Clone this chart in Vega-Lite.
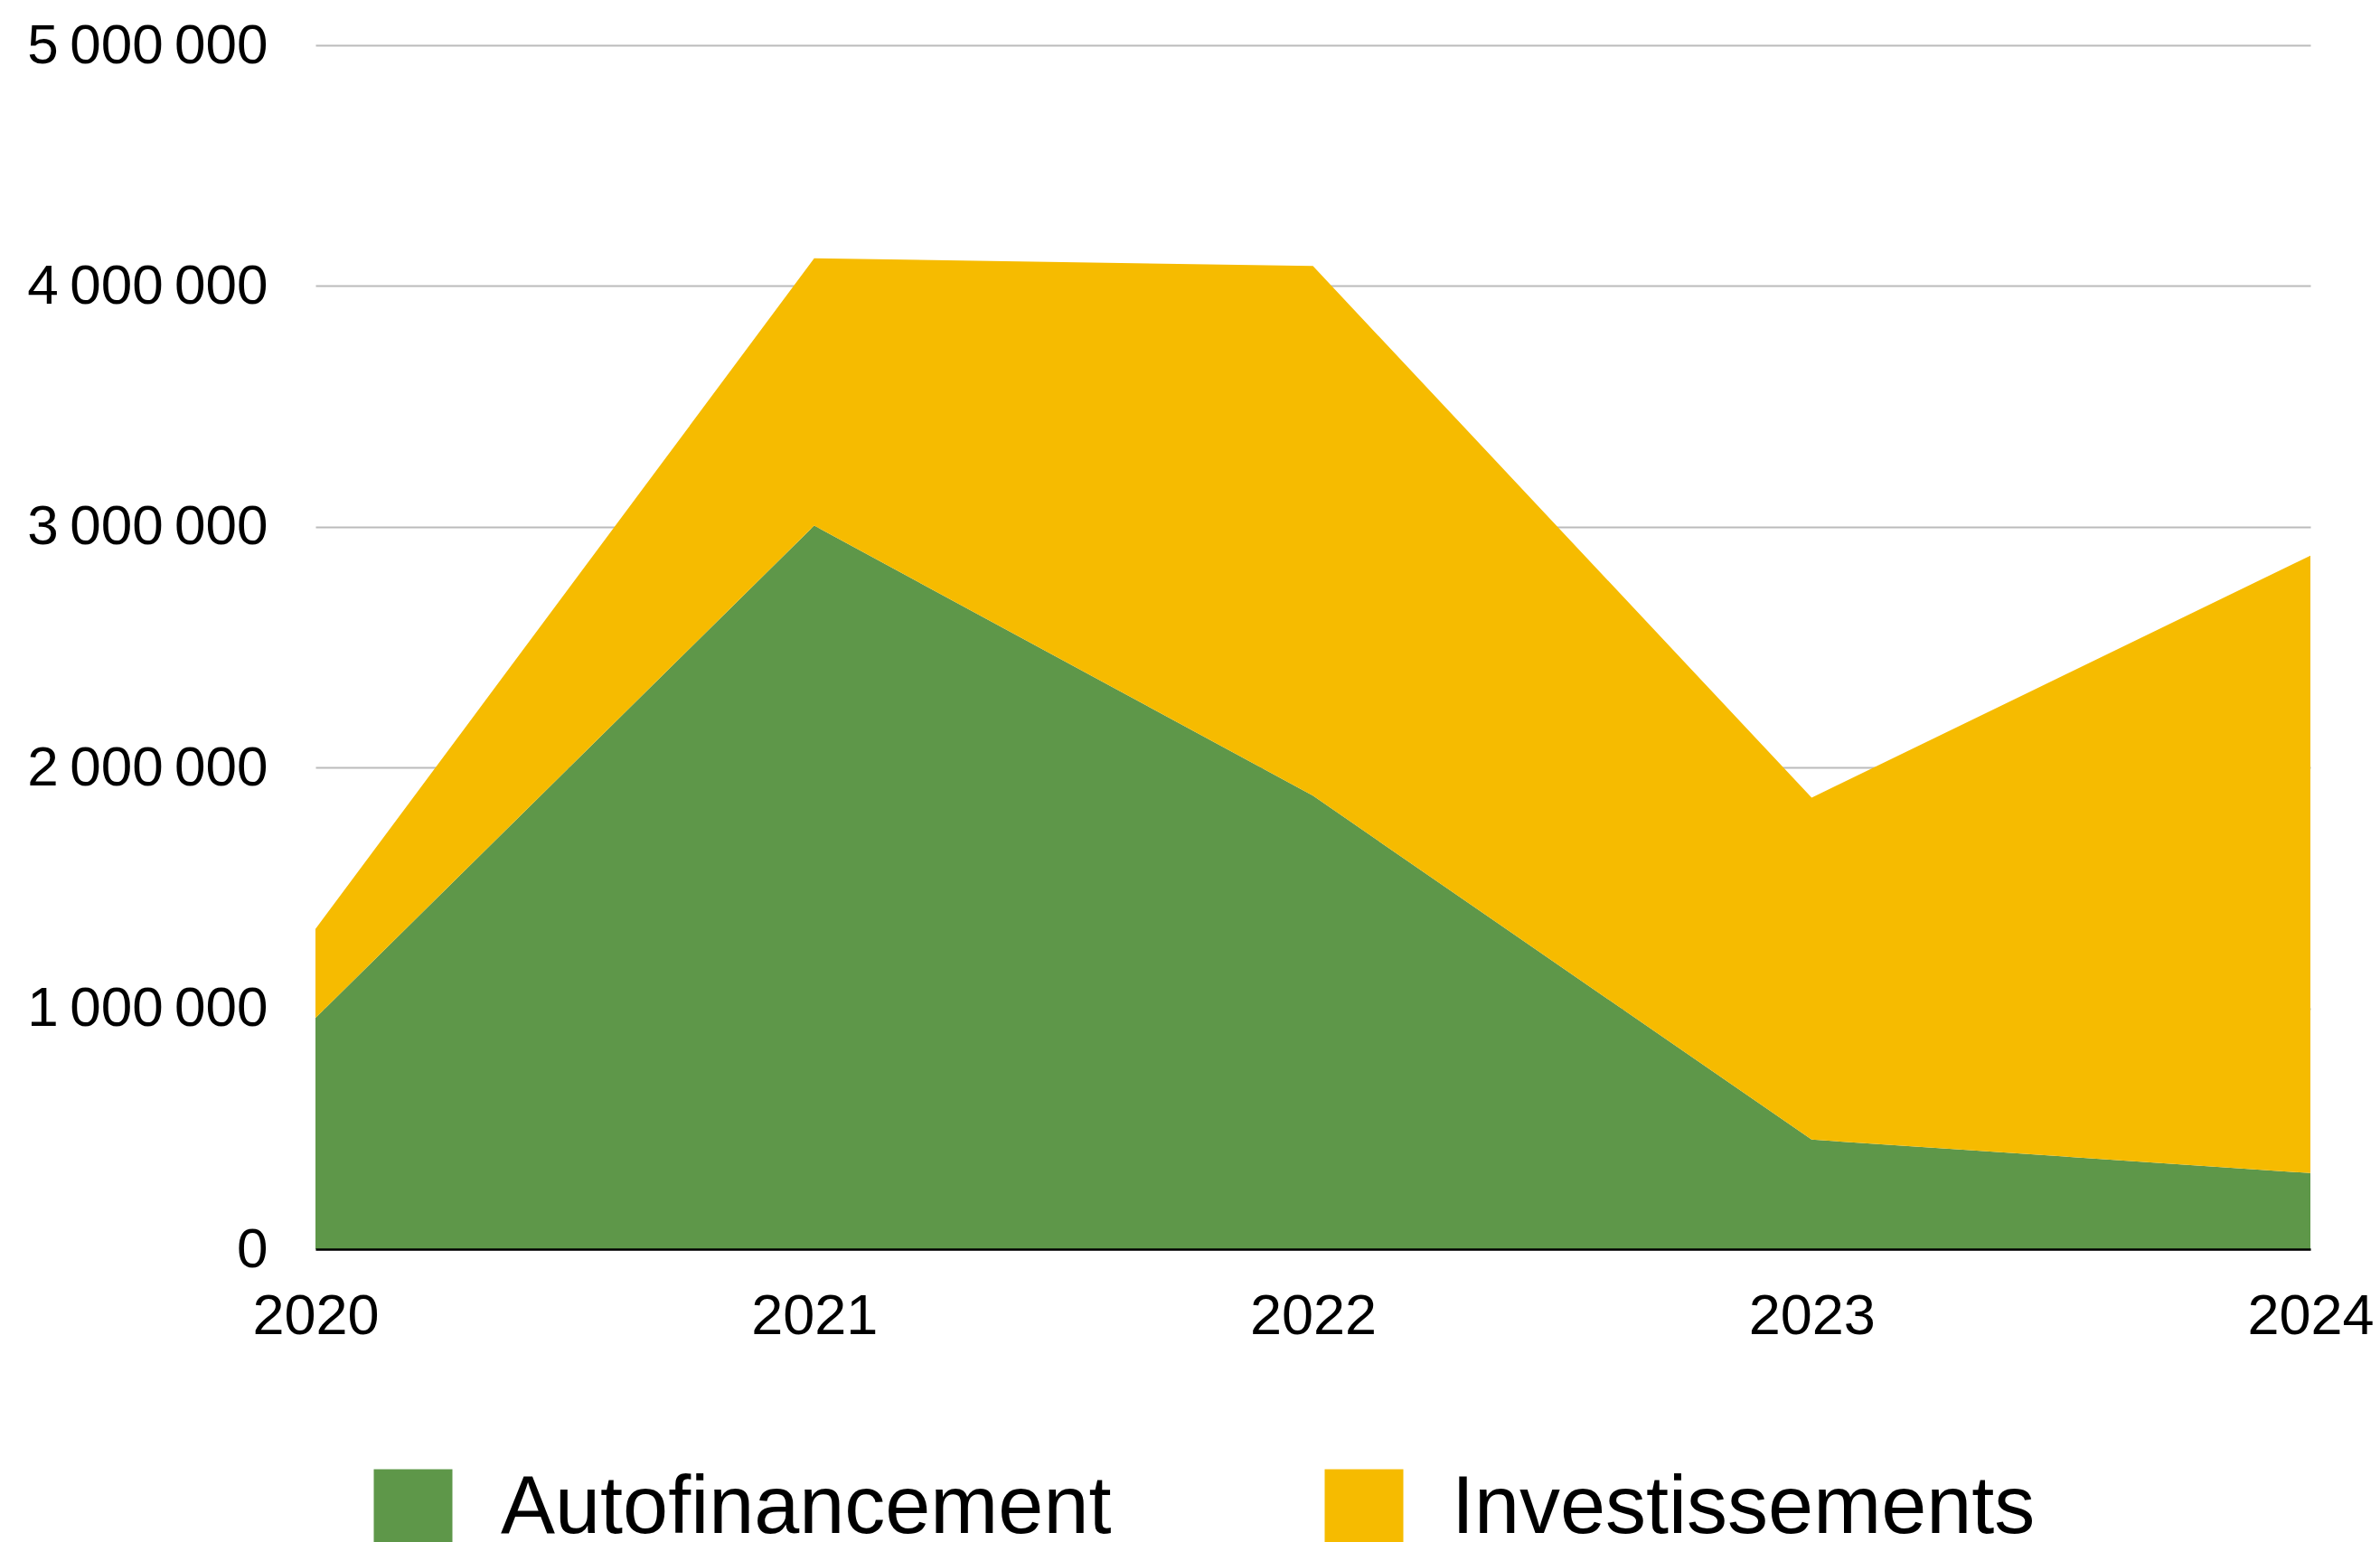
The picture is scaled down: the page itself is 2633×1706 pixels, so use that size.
{
  "$schema": "https://vega.github.io/schema/vega-lite/v6.json",
  "width": 2207,
  "height": 1332,
  "autosize": {"type": "none"},
  "padding": {"left": 349, "top": 50, "right": 77, "bottom": 324},
  "background": "white",
  "data": {
    "values": [
      {"year": 2020, "series": "Autofinancement", "value": 960000},
      {"year": 2021, "series": "Autofinancement", "value": 3005000},
      {"year": 2022, "series": "Autofinancement", "value": 1883000},
      {"year": 2023, "series": "Autofinancement", "value": 455000},
      {"year": 2024, "series": "Autofinancement", "value": 316000},
      {"year": 2020, "series": "Investissements", "value": 370000},
      {"year": 2021, "series": "Investissements", "value": 1110000},
      {"year": 2022, "series": "Investissements", "value": 2200000},
      {"year": 2023, "series": "Investissements", "value": 1420000},
      {"year": 2024, "series": "Investissements", "value": 2564000}
    ]
  },
  "mark": {"type": "area", "interpolate": "linear", "opacity": 1},
  "encoding": {
    "x": {
      "field": "year",
      "type": "quantitative",
      "scale": {"domain": [2020, 2024], "nice": false, "zero": false},
      "axis": {
        "title": null,
        "values": [2020, 2021, 2022, 2023, 2024],
        "format": "d",
        "grid": false,
        "ticks": false,
        "tickSize": 0,
        "domain": true,
        "domainColor": "#000000",
        "domainWidth": 2.5,
        "labelFont": "Liberation Sans",
        "labelFontSize": 63,
        "labelColor": "#000000",
        "labelPadding": 43,
        "labelFlush": false,
        "labelOverlap": false,
        "labelLimit": 1000,
        "zindex": 1
      }
    },
    "y": {
      "field": "value",
      "type": "quantitative",
      "stack": "zero",
      "scale": {"domain": [0, 5000000], "nice": false},
      "axis": {
        "title": null,
        "values": [0, 1000000, 2000000, 3000000, 4000000, 5000000],
        "labelExpr": "replace(format(datum.value, ','), regexp(',', 'g'), '\u2009')",
        "grid": true,
        "gridColor": "#bbbbbb",
        "gridWidth": 2,
        "ticks": false,
        "tickSize": 0,
        "domain": false,
        "labelFont": "Liberation Sans",
        "labelFontSize": 62,
        "labelColor": "#000000",
        "labelPadding": 53,
        "labelOverlap": false,
        "labelLimit": 1000,
        "zindex": 0
      }
    },
    "color": {
      "field": "series",
      "type": "nominal",
      "scale": {
        "domain": ["Autofinancement", "Investissements"],
        "range": ["#5e9749", "#f6bb00"]
      },
      "legend": {
        "title": null,
        "orient": "none",
        "legendX": 63,
        "legendY": 1574,
        "direction": "horizontal",
        "columns": 2,
        "padding": 0,
        "symbolType": "square",
        "symbolSize": 7569,
        "symbolStrokeWidth": 0,
        "symbolOpacity": 1,
        "labelFont": "Liberation Sans",
        "labelFontSize": 90,
        "labelColor": "#000000",
        "labelOffset": 52,
        "labelLimit": 2000,
        "columnPadding": 234
      }
    },
    "order": {"field": "series", "sort": "ascending"}
  },
  "config": {
    "view": {"stroke": null}
  }
}
